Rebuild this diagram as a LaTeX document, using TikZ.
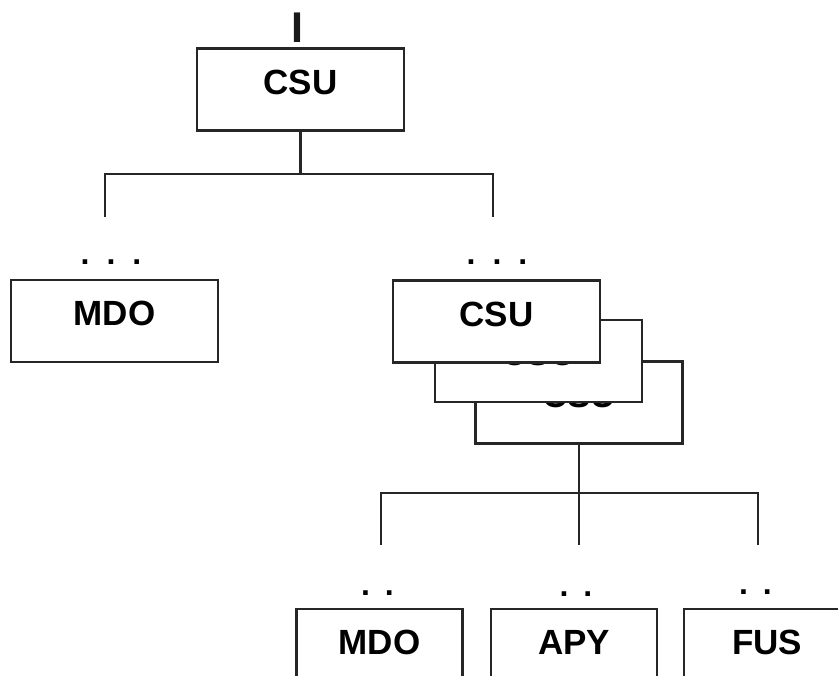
\documentclass[tikz,border=0pt]{standalone}
\usepackage{fontspec}
\setmainfont{Liberation Sans}
\begin{document}
\begin{tikzpicture}[x=1pt, y=-1pt,
	unit/.style={rectangle, draw=black!85, line width=2.2pt, fill=white, minimum width=207pt, minimum height=82pt, inner sep=0pt, text height=25pt, text depth=16pt, font=\fontsize{35}{40}\selectfont\bfseries},
	leaf/.style={unit, minimum width=166pt},
	dots/.style={inner sep=0pt, font=\fontsize{32}{34}\selectfont\bfseries},
	link/.style={draw=black!85, line width=2.2pt}]
	    \useasboundingbox (0,0) rectangle (838,675);
	    \node[inner sep=0pt, font=\fontsize{43}{45}\selectfont\bfseries, text=black!90] (bar) at (297, 27.5) {I};
	    \node[unit] (top) at (300.5, 89.5) {CSU};
	    \node[unit] (mdo1) at (114.5, 321) {MDO};
	    \node[unit] (csu3) at (579, 402.5) {CSU};
	    \node[unit] (csu2) at (538.5, 361) {CSU};
	    \node[unit] (csu1) at (496.5, 321.5) {CSU};
	    \node[leaf] (mdo2) at (379.5, 650) {MDO};
	    \node[leaf] (apy) at (574, 650) {APY};
	    \node[leaf] (fus) at (767, 650) {FUS};
	    \node[dots] (d1) at (111, 262) {.\hspace{17pt}.\hspace{17pt}.};
	    \node[dots] (d2) at (497, 262) {.\hspace{17pt}.\hspace{17pt}.};
	    \node[dots] (d3) at (377.5, 593) {.\hspace{15pt}.};
	    \node[dots] (d4) at (576, 594) {.\hspace{15pt}.};
	    \node[dots] (d5) at (755.5, 592) {.\hspace{15pt}.};
	    \coordinate (l1) at (105, 217);
	    \coordinate (r1) at (493, 217);
	    \coordinate (b1) at (381, 545);
	    \coordinate (b2) at (579, 545);
	    \coordinate (b3) at (758, 545);
	    \draw[link] (top.south) -- ++(0, 42) coordinate (j1);
	    \draw[link] (l1) |- (j1) -| (r1);
	    \draw[link] (csu3.south) -- (b2);
	    \draw[link] (b1) |- (csu3.south |- 0, 493) -| (b3);
	\end{tikzpicture}
\end{document}
